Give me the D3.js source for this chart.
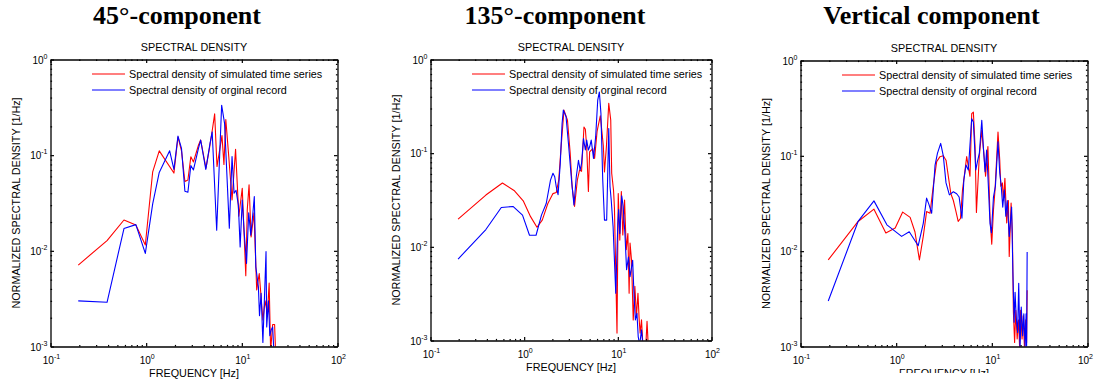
<!DOCTYPE html>
<html>
<head>
<meta charset="utf-8">
<script src="https://cdn.jsdelivr.net/npm/d3@7"></script>
<style>
  html, body { margin: 0; padding: 0; background: #fff; }
  svg { display: block; }
  text { font-family: "Liberation Sans", Arial, sans-serif; fill: #000; }
</style>
</head>
<body>
<svg id="chart" width="1094" height="383"></svg>
<script>
// ---- 45°-component: simulated (red) and recorded (blue) spectra ----
const freq45Sim = [0.195,0.39,0.586,0.78,0.98,1.17,1.37,1.95,2.15,2.34,2.54,2.73,2.93,3.12,3.52,3.71,4.22,4.6,4.9,5.2,5.5,6.2,6.5,6.8,7.3,7.9,8.6,9.3,10.1,11.0,11.4,11.9,12.5,13.4,14.3,15.2,16.6,17.5,18.5,19.3,20.0,21.0,22.0,22.5];
const psd45Sim  = [0.0071,0.0128,0.021,0.0186,0.0115,0.067,0.111,0.065,0.155,0.111,0.053,0.055,0.096,0.085,0.127,0.144,0.073,0.12,0.18,0.27,0.076,0.16,0.08,0.236,0.097,0.034,0.115,0.023,0.045,0.0055,0.027,0.049,0.014,0.025,0.0039,0.0058,0.0019,0.003,0.0022,0.0046,0.0009,0.0017,0.0017,0.0009];
const freq45Rec = [0.195,0.39,0.586,0.78,0.98,1.17,1.37,1.76,1.95,2.15,2.34,2.54,2.73,2.93,3.12,3.52,3.71,4.2,4.65,4.9,5.46,6.15,6.6,7.4,7.9,8.3,8.7,9.2,9.6,10.1,10.6,11.2,11.8,12.4,12.9,13.5,14.0,14.9,15.3,15.9,16.6,17.2,17.9,18.2,19.0,19.6,20.3,21.0,21.6];
const psd45Rec  = [0.0030,0.0029,0.0171,0.0188,0.0094,0.031,0.066,0.111,0.071,0.158,0.118,0.042,0.041,0.078,0.070,0.118,0.144,0.071,0.133,0.175,0.0164,0.333,0.215,0.0172,0.097,0.04,0.043,0.03,0.011,0.034,0.0152,0.0074,0.025,0.0146,0.0218,0.037,0.0068,0.0042,0.0021,0.0036,0.0011,0.003,0.0098,0.0016,0.003,0.0013,0.0015,0.0016,0.0009];

// ---- 135°-component ----
const freq135Sim = [0.197,0.39,0.586,0.78,0.977,1.17,1.37,1.56,1.79,2.03,2.2,2.34,2.48,2.66,2.9,3.1,3.25,3.45,3.7,3.9,4.1,4.35,4.5,4.65,4.85,5.0,5.4,5.65,6.0,6.2,6.5,7.0,7.2,7.55,8.0,8.4,8.6,9.0,9.2,9.6,9.8,10.1,10.5,10.9,11.3,11.8,12.3,12.8,13.2,13.5,14.0,14.6,15.2,15.8,16.4,16.9,17.3,17.9,18.5,20.0,20.5,21.1];
const psd135Sim  = [0.0198,0.0357,0.048,0.040,0.031,0.021,0.0162,0.0193,0.029,0.037,0.038,0.0516,0.117,0.288,0.225,0.10,0.044,0.027,0.052,0.066,0.064,0.19,0.18,0.117,0.039,0.103,0.112,0.088,0.17,0.2,0.25,0.12,0.063,0.117,0.34,0.225,0.061,0.04,0.026,0.0032,0.0012,0.037,0.0118,0.039,0.0134,0.0316,0.0093,0.0139,0.0032,0.011,0.0072,0.00166,0.0038,0.0018,0.0032,0.00166,0.0012,0.00166,0.0009,0.00098,0.0016,0.0009];
const freq135Rec = [0.197,0.39,0.57,0.76,0.96,1.14,1.34,1.53,1.72,1.91,2.03,2.12,2.2,2.3,2.43,2.54,2.62,2.8,2.97,3.2,3.4,3.6,3.8,3.96,4.1,4.3,4.5,4.65,4.85,5.0,5.2,5.5,5.8,6.1,6.35,6.6,6.9,7.2,7.6,8.0,8.25,8.5,8.9,9.5,10.0,10.2,10.5,11.0,11.4,11.9,12.4,13.0,13.5,14.4,14.9,15.4,16.0,16.5,17.1,17.9,18.5];
const psd135Rec  = [0.0074,0.0153,0.0263,0.027,0.0218,0.0133,0.0133,0.0218,0.029,0.0516,0.061,0.056,0.044,0.036,0.078,0.207,0.288,0.245,0.127,0.052,0.028,0.056,0.084,0.066,0.078,0.143,0.108,0.138,0.108,0.117,0.138,0.088,0.15,0.368,0.45,0.266,0.052,0.0193,0.0193,0.183,0.044,0.0316,0.0164,0.0032,0.018,0.025,0.0139,0.035,0.027,0.0139,0.0057,0.0078,0.0048,0.0072,0.003,0.00166,0.00195,0.0011,0.0009,0.0013,0.0009];

// ---- Vertical component ----
const freqVertSim = [0.195,0.40,0.586,0.78,0.977,1.17,1.4,1.57,1.75,1.92,2.08,2.26,2.44,2.65,2.87,3.11,3.32,3.51,3.73,3.96,4.22,4.45,4.7,4.94,5.2,5.46,5.68,5.91,6.16,6.41,6.68,6.9,7.4,7.85,8.3,8.6,9.1,9.57,9.98,10.4,10.8,11.6,12.1,12.4,12.9,13.2,13.7,14.3,14.9,15.2,15.9,16.4,16.8,17.3,17.8,18.4,19.0,19.5,20.0,20.7,21.3,21.9,22.6,23.1,23.4];
const psdVertSim  = [0.0081,0.0205,0.0276,0.0155,0.0175,0.0257,0.0226,0.016,0.0081,0.0143,0.026,0.025,0.048,0.087,0.098,0.1,0.09,0.061,0.04,0.034,0.026,0.0205,0.022,0.044,0.066,0.098,0.077,0.061,0.277,0.288,0.125,0.0255,0.1,0.186,0.098,0.061,0.125,0.023,0.0118,0.027,0.044,0.178,0.09,0.048,0.052,0.034,0.058,0.0198,0.034,0.0088,0.032,0.0154,0.0023,0.0011,0.0024,0.0012,0.0019,0.001,0.0024,0.0012,0.0021,0.001,0.0019,0.0011,0.0039];
const freqVertRec = [0.195,0.40,0.586,0.8,1.14,1.37,1.7,1.92,2.08,2.2,2.35,2.55,2.7,2.92,3.11,3.32,3.6,3.96,4.29,4.55,4.87,5.1,5.37,5.68,6.16,6.41,6.8,7.07,7.4,7.85,8.15,8.5,8.83,9.2,9.57,9.9,10.4,10.9,11.6,12.1,12.5,13.0,13.5,14.0,14.5,15.2,16.1,16.6,17.1,17.5,18.0,18.6,19.1,19.7,20.3,21.0,21.6,22.3,22.8,23.1,23.4];
const psdVertRec  = [0.0030,0.0205,0.0337,0.0189,0.0143,0.016,0.0114,0.0196,0.036,0.031,0.025,0.08,0.106,0.135,0.1,0.052,0.039,0.042,0.04,0.037,0.0222,0.056,0.08,0.071,0.245,0.227,0.071,0.087,0.106,0.236,0.125,0.068,0.115,0.048,0.0196,0.0155,0.037,0.048,0.14,0.066,0.05,0.029,0.044,0.0232,0.034,0.0143,0.029,0.006,0.0018,0.0037,0.002,0.0014,0.0046,0.00095,0.0026,0.0013,0.0022,0.001,0.0022,0.001,0.0098];

// ---- labels and axis settings ----
const panelTitles = ["45°-component", "135°-component", "Vertical component"];
const plotTitle = "SPECTRAL DENSITY";
const xAxisLabel = "FREQUENCY [Hz]";
const yAxisLabel = "NORMALIZED SPECTRAL DENSITY [1/Hz]";
const legendLabels = ["Spectral density of simulated time series", "Spectral density of orginal record"];
const seriesColors = ["#ff0000", "#0000ff"];
const xTickExponents = [-1, 0, 1, 2];
const yTickExponents = [-3, -2, -1, 0];
const xDomain = [0.1, 100];
const yDomain = [0.001, 1];

const panelSeries = [
  [[freq45Sim, psd45Sim], [freq45Rec, psd45Rec]],
  [[freq135Sim, psd135Sim], [freq135Rec, psd135Rec]],
  [[freqVertSim, psdVertSim], [freqVertRec, psdVertRec]]
];

// frame geometry of each axes box
const frames = [
  { left: 50.5, right: 337.5, top: 59.5, bottom: 346.5, headX: 177, labelClip: null },
  { left: 430.5, right: 711.5, top: 59.5, bottom: 340.5, headX: 555, labelClip: null },
  { left: 800.5, right: 1087.5, top: 60.5, bottom: 346.5, headX: 931.5, labelClip: 373 }
];

const pageWidth = 1094;
const svg = d3.select("#chart");
const defs = svg.append("defs");

panelSeries.forEach((series, i) => {
  const f = frames[i];
  const g = svg.append("g");
  const x = d3.scaleLog().domain(xDomain).range([f.left, f.right]);
  const y = d3.scaleLog().domain(yDomain).range([f.bottom, f.top]);
  const allX = x.ticks();
  const allY = y.ticks();
  const isMajor = v => Math.abs(Math.log10(v) - Math.round(Math.log10(v))) < 1e-9;

  // panel heading
  svg.append("text")
    .attr("x", f.headX).attr("y", 24)
    .attr("text-anchor", "middle")
    .style("font-family", "'Liberation Serif', 'Times New Roman', serif")
    .style("font-weight", "bold")
    .style("font-size", "26px")
    .text(panelTitles[i]);

  // curves, clipped to the axes box
  const clipId = "plotclip" + i;
  defs.append("clipPath").attr("id", clipId)
    .append("rect")
    .attr("x", f.left).attr("y", f.top)
    .attr("width", f.right - f.left).attr("height", f.bottom - f.top);

  const line = d3.line().x(d => x(d[0])).y(d => y(d[1]));
  const curves = g.append("g").attr("clip-path", `url(#${clipId})`);
  series.forEach(([fr, val], s) => {
    const pts = fr.map((v, k) => [v, val[k]]);
    curves.append("path")
      .datum(pts)
      .attr("d", line)
      .attr("fill", "none")
      .attr("stroke", seriesColors[s])
      .attr("stroke-width", 1.1)
      .attr("stroke-linejoin", "round");
  });

  // four-sided box with short inward major/minor ticks
  const sides = [
    { axis: d3.axisBottom(x), tr: `translate(0,${f.bottom})`, vals: allX, dir: -1, attr: "y2" },
    { axis: d3.axisTop(x), tr: `translate(0,${f.top})`, vals: allX, dir: 1, attr: "y2" },
    { axis: d3.axisLeft(y), tr: `translate(${f.left},0)`, vals: allY, dir: 1, attr: "x2" },
    { axis: d3.axisRight(y), tr: `translate(${f.right},0)`, vals: allY, dir: -1, attr: "x2" }
  ];
  sides.forEach(sd => {
    const ax = g.append("g")
      .attr("transform", sd.tr)
      .call(sd.axis.tickValues(sd.vals).tickFormat("").tickSizeOuter(0).tickSizeInner(2));
    ax.select(".domain").attr("stroke", "#000").attr("stroke-width", 1.3);
    ax.selectAll(".tick line")
      .attr("stroke", "#000")
      .attr("stroke-width", 1.2)
      .attr(sd.attr, d => sd.dir * (isMajor(d) ? 3.5 : 1.6));
    ax.selectAll(".tick text").remove();
  });

  // power-of-ten tick labels
  xTickExponents.forEach(e => {
    const t = g.append("text")
      .attr("x", x(Math.pow(10, e)) + 1)
      .attr("y", f.bottom + 17)
      .attr("text-anchor", "middle")
      .style("font-size", "10px");
    t.append("tspan").text("10");
    t.append("tspan").attr("dy", -5).style("font-size", "7px").text(String(e));
    // keep the rightmost label inside the page
    const box = t.node().getBBox();
    const overflow = box.x + box.width - (pageWidth - 1);
    if (overflow > 0) t.attr("x", +t.attr("x") - overflow);
  });
  yTickExponents.forEach(e => {
    const t = g.append("text")
      .attr("x", f.left - 3)
      .attr("y", y(Math.pow(10, e)) + 4)
      .attr("text-anchor", "end")
      .style("font-size", "10px");
    t.append("tspan").text("10");
    t.append("tspan").attr("dy", -5).style("font-size", "7px").text(String(e));
  });

  const cx = (f.left + f.right) / 2;
  const cy = (f.top + f.bottom) / 2;

  // axes title
  g.append("text")
    .attr("x", cx).attr("y", f.top - 8.7)
    .attr("text-anchor", "middle")
    .style("font-size", "10.8px")
    .text(plotTitle);

  // x-axis label (the third panel's label runs past the bottom edge of its frame area)
  const xl = g.append("text")
    .attr("x", cx).attr("y", f.bottom + 30.8)
    .attr("text-anchor", "middle")
    .style("font-size", "10.8px")
    .text(xAxisLabel);
  if (f.labelClip !== null) {
    const lcId = "labelclip" + i;
    defs.append("clipPath").attr("id", lcId)
      .append("rect").attr("x", f.left - 60).attr("y", 0)
      .attr("width", f.right - f.left + 120).attr("height", f.labelClip);
    xl.attr("clip-path", `url(#${lcId})`);
  }

  // y-axis label
  g.append("text")
    .attr("transform", `translate(${f.left - 30.5},${cy}) rotate(-90)`)
    .attr("text-anchor", "middle")
    .style("font-size", "10.8px")
    .text(yAxisLabel);

  // legend
  legendLabels.forEach((lab, s) => {
    const ly = f.top + 14.5 + s * 16;
    g.append("line")
      .attr("x1", f.left + 41.5).attr("x2", f.left + 74.5)
      .attr("y1", ly).attr("y2", ly)
      .attr("stroke", seriesColors[s]).attr("stroke-width", 1.1);
    g.append("text")
      .attr("x", f.left + 78.5).attr("y", ly + 4)
      .style("font-size", "10.8px")
      .text(lab);
  });
});
</script>
</body>
</html>
